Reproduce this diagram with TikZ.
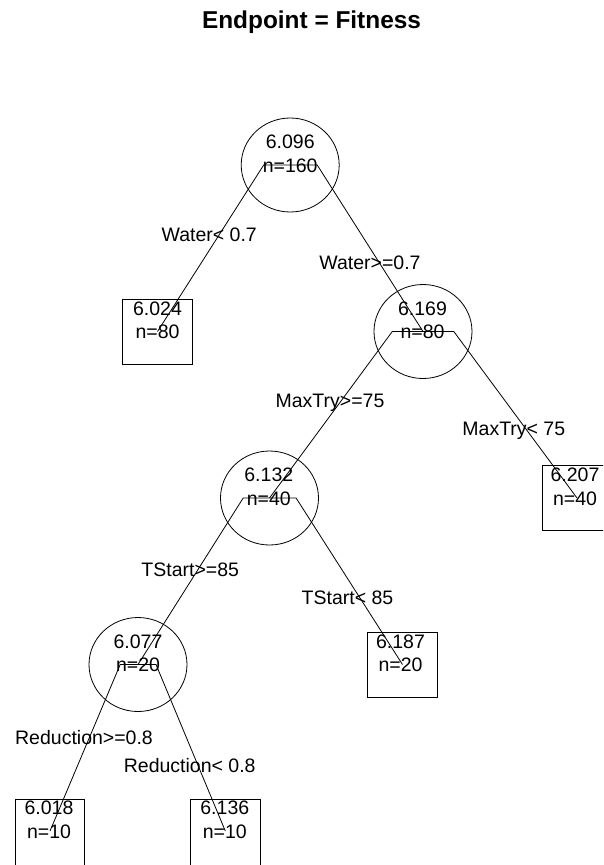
\documentclass[tikz,border=0pt]{standalone}
\usepackage{fontspec}
\setmainfont{Liberation Sans}
\usetikzlibrary{shapes.geometric}
\begin{document}
\begin{tikzpicture}[x=1pt,y=-1pt,
  txt/.style={inner sep=0pt, font=\fontsize{19.5}{23}\selectfont, text height=14pt, text depth=0pt, anchor=center},
  splitnode/.style={draw, ellipse, minimum width=98pt, minimum height=94pt, inner sep=0pt, line width=0.8pt},
  leafnode/.style={draw, rectangle, minimum width=69.5pt, minimum height=65pt, inner sep=0pt, line width=0.8pt},
  leafbottom/.style={leafnode, minimum height=72pt, anchor=north},
  branch/.style={line width=0.8pt}]
\useasboundingbox (0,0) rectangle (603,865);
\clip (0,0) rectangle (603,865);

% title
\node[inner sep=0pt, font=\bfseries\fontsize{24.4}{28}\selectfont, text height=17.5pt, text depth=0pt] (title) at (311.5,20) {Endpoint = Fitness};

% node shapes
\node[splitnode] (A) at (290.2,165) {};
\node[leafnode]  (B) at (157.5,331.5) {};
\node[splitnode] (C) at (423,331.5) {};
\node[splitnode] (D) at (269.5,498) {};
\node[leafnode]  (E) at (577,498) {};
\node[splitnode] (F) at (138,664.5) {};
\node[leafnode]  (G) at (402.5,664.5) {};
\node[leafbottom] (H) at (50,799) {};
\node[leafbottom] (I) at (225.3,799) {};

% node point coordinates for bottom leaves
\coordinate (Hp) at (50,831);
\coordinate (Ip) at (225.3,831);

% kink coordinates
\coordinate (kAB) at (263.7,165);
\coordinate (kAC) at (317.2,165);
\coordinate (kCD) at (392.3,331.5);
\coordinate (kCE) at (453.8,331.5);
\coordinate (kDF) at (243.2,498);
\coordinate (kDG) at (296.1,498);
\coordinate (kFH) at (120.2,664.5);
\coordinate (kFI) at (156,664.5);

% node texts
\node[txt] (At) at (290.2,141.5) {6.096};
\node[txt] (An) at (290.2,165) {n=160};
\node[txt] (Bt) at (157.5,308) {6.024};
\node[txt] (Bn) at (157.5,331.5) {n=80};
\node[txt] (Ct) at (422.5,308) {6.169};
\node[txt] (Cn) at (422.5,331.5) {n=80};
\node[txt] (Dt) at (268.8,474.5) {6.132};
\node[txt] (Dn) at (268.8,498) {n=40};
\node[txt] (Et) at (575,474.5) {6.207};
\node[txt] (En) at (575,498) {n=40};
\node[txt] (Ft) at (138,641) {6.077};
\node[txt] (Fn) at (138,664.5) {n=20};
\node[txt] (Gt) at (400.5,641) {6.187};
\node[txt] (Gn) at (400.5,664.5) {n=20};
\node[txt] (Ht) at (49,807.5) {6.018};
\node[txt] (Hn) at (49,831) {n=10};
\node[txt] (It) at (224.8,807.5) {6.136};
\node[txt] (In) at (224.8,831) {n=10};

% branches
\draw[branch] (A.center) -- (kAB) -- (B.center);
\draw[branch] (A.center) -- (kAC) -- (C.center);
\draw[branch] (C.center) -- (kCD) -- (D.center);
\draw[branch] (C.center) -- (kCE) -- (E.center);
\draw[branch] (D.center) -- (kDF) -- (F.center);
\draw[branch] (D.center) -- (kDG) -- (G.center);
\draw[branch] (F.center) -- (kFH) -- (Hp);
\draw[branch] (F.center) -- (kFI) -- (Ip);

% split labels
\node[txt] (lAB) at (209.2,234.7) {Water< 0.7};
\node[txt] (lAC) at (370,262.8) {Water>=0.7};
\node[txt] (lCD) at (330,400.5) {MaxTry>=75};
\node[txt] (lCE) at (513.8,428.8) {MaxTry< 75};
\node[txt] (lDF) at (190.2,569.2) {TStart>=85};
\node[txt] (lDG) at (347.5,597.8) {TStart< 85};
\node[txt] (lFH) at (84,737.5) {Reduction>=0.8};
\node[txt] (lFI) at (189.7,765.8) {Reduction< 0.8};
\end{tikzpicture}
\end{document}
